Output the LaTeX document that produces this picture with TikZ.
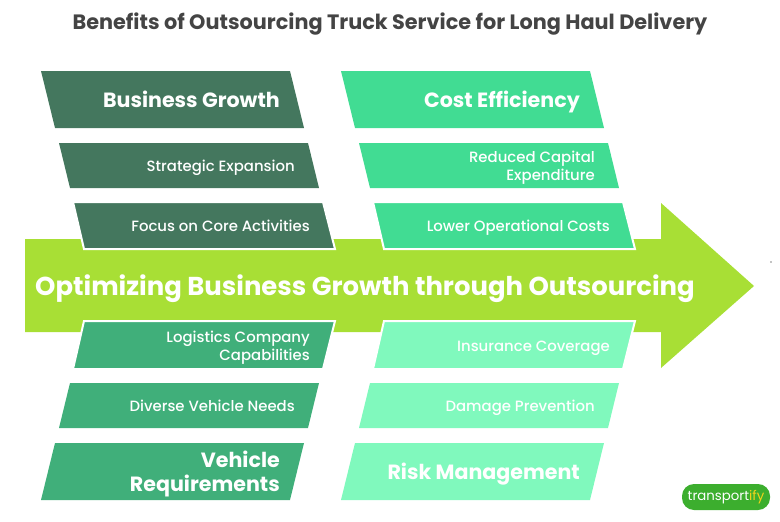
\documentclass[tikz,border=0pt]{standalone}
\usepackage{fontspec}
\setmainfont{Poppins}
\newfontfamily\subfont{Poppins Medium}
\usepackage{tikz}
\usetikzlibrary{positioning,calc}
\definecolor{growthdark}{HTML}{44775E}
\definecolor{costgreen}{HTML}{41DC93}
\definecolor{vehiclegreen}{HTML}{40AF7A}
\definecolor{riskmint}{HTML}{80F9BD}
\definecolor{arrowlime}{HTML}{A8DF35}
\definecolor{logogreen}{HTML}{3CAE2E}
\definecolor{logoyellow}{HTML}{F2D21B}
\definecolor{titlegrey}{HTML}{444444}
\tikzset{
  headtext/.style={anchor=base east,align=right,text=white,font=\fontsize{20.6}{24}\selectfont\bfseries,inner sep=0},
  subtext/.style={anchor=base east,align=right,text=white,font=\fontsize{14.9}{18}\selectfont\subfont,inner sep=0},
  edged/.style={draw=white,line width=2pt}
}
\begin{document}
\begin{tikzpicture}[x=1pt,y=-1pt]
\useasboundingbox (0,0) rectangle (780,522);
\node[anchor=base,text=titlegrey,font=\fontsize{20.8}{24}\selectfont\bfseries,inner sep=0] (title) at (390,29) {Benefits of Outsourcing Truck Service for Long Haul Delivery};
% arrow
\fill[arrowlime] (25,239) -- (661,239) -- (661,203) -- (754,286) -- (661,368) -- (661,332) -- (25,332) -- cycle;
\node[anchor=base west,text=white,font=\fontsize{25.9}{32}\selectfont\bfseries,inner sep=0] (main) at (35,295) {Optimizing Business Growth through Outsourcing};
% top left
\fill[growthdark] (41,71) -- (290,71) -- (304,128) -- (55,128) -- cycle;
\fill[growthdark] (59,143) -- (308,143) -- (319,188) -- (70,188) -- cycle;
\fill[growthdark,edged] (73,202) -- (323,202) -- (335,249) -- (84,249) -- cycle;
\node[headtext] (growth) at (280,107) {Business Growth};
\node[subtext] (expansion) at (295,171) {Strategic Expansion};
\node[subtext] (core) at (310,231) {Focus on Core Activities};
% top right
\fill[costgreen] (341,71) -- (590,71) -- (604,128) -- (355,128) -- cycle;
\fill[costgreen] (359,143) -- (608,143) -- (619,188) -- (370,188) -- cycle;
\fill[costgreen,edged] (373,202) -- (623,202) -- (635,249) -- (384,249) -- cycle;
\node[headtext] (cost) at (580,107) {Cost Efficiency};
\node[subtext] (capital) at (595,180) {Reduced Capital\\Expenditure};
\node[subtext] (lower) at (610,231) {Lower Operational Costs};
% bottom left
\fill[vehiclegreen,edged] (84,321) -- (335,321) -- (323,369) -- (73,369) -- cycle;
\fill[vehiclegreen] (70,383) -- (319,383) -- (308,428) -- (59,428) -- cycle;
\fill[vehiclegreen] (55,443) -- (304,443) -- (290,500) -- (41,500) -- cycle;
\node[subtext] (logistics) at (310,360) {Logistics Company\\Capabilities};
\node[subtext] (diverse) at (295,411) {Diverse Vehicle Needs};
\node[headtext] (vehicle) at (280,491) {Vehicle\\Requirements};
% bottom right
\fill[riskmint,edged] (384,321) -- (635,321) -- (623,369) -- (373,369) -- cycle;
\fill[riskmint] (370,383) -- (619,383) -- (608,428) -- (359,428) -- cycle;
\fill[riskmint] (355,443) -- (604,443) -- (590,500) -- (341,500) -- cycle;
\node[subtext] (insurance) at (610,351) {Insurance Coverage};
\node[subtext] (damage) at (595,411) {Damage Prevention};
\node[headtext] (risk) at (580,479) {Risk Management};
% logo
\node[fill=logogreen,rounded corners=12pt,minimum width=88pt,minimum height=26pt,inner sep=0,text=white,font=\fontsize{13.3}{16}\selectfont] (logo) at (726,497) {transport\textcolor{logoyellow}{ify}};
\fill[black] (771,262) circle (0.6pt);
\end{tikzpicture}
\end{document}
